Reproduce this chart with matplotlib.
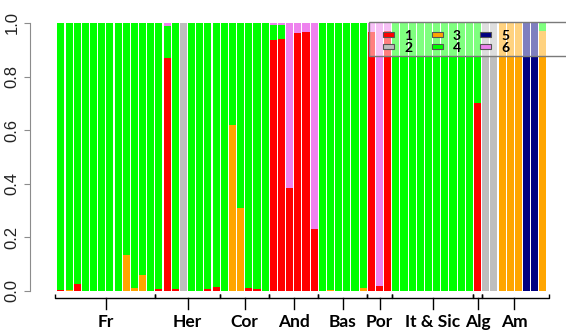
import numpy as np
import matplotlib.pyplot as plt
from matplotlib.patches import Rectangle

# membership coefficients per individual for clusters 1..6 (stacked bottom to top)
# population order: Fr, Her, Cor, And, Bas, Por, It & Sic, Alg, Am
k1 = ([0.005, 0, 0.025, 0, 0, 0, 0, 0, 0, 0, 0, 0]
      + [0.008, 0.868, 0.008, 0, 0, 0, 0.008, 0.015]
      + [0, 0, 0, 0.010, 0.006, 0]
      + [0.936, 0.940, 0.385, 0.962, 0.968, 0.232]
      + [0, 0, 0, 0, 0, 0]
      + [0.965, 0.018, 0.970]
      + [0, 0, 0, 0, 0, 0, 0, 0, 0, 0]
      + [0.703]
      + [0, 0, 0, 0, 0, 0, 0, 0])
k2 = ([0] * 12
      + [0, 0, 0, 1.0, 0, 0, 0, 0]
      + [0] * 6 + [0] * 6 + [0] * 6 + [0] * 3 + [0] * 10 + [0]
      + [1.0, 1.0, 0, 0, 0, 0, 0, 0])
k3 = ([0, 0.005, 0, 0, 0, 0, 0, 0, 0.135, 0.013, 0.058, 0]
      + [0] * 8
      + [0, 0.620, 0.310, 0, 0, 0]
      + [0] * 6
      + [0, 0.004, 0, 0, 0, 0.012]
      + [0] * 3 + [0] * 10 + [0]
      + [0, 0, 1.0, 1.0, 1.0, 0, 0, 0.970])
k4 = ([0.995, 0.995, 0.975, 1, 1, 1, 1, 1, 0.865, 0.987, 0.942, 1]
      + [0.992, 0.121, 0.992, 0, 1, 1, 0.992, 0.985]
      + [1, 0.380, 0.690, 0.990, 0.994, 1]
      + [0.058, 0.054, 0, 0, 0, 0]
      + [1, 0.996, 1, 1, 1, 0.988]
      + [0, 0, 0]
      + [1, 1, 1, 1, 1, 1, 1, 1, 1, 1]
      + [0.297]
      + [0, 0, 0, 0, 0, 0, 0, 0.030])
k5 = ([0] * 12 + [0] * 8 + [0] * 6 + [0] * 6 + [0] * 6 + [0] * 3 + [0] * 10 + [0]
      + [0, 0, 0, 0, 0, 1.0, 1.0, 0])
k6 = ([0] * 12
      + [0, 0.011, 0, 0, 0, 0, 0, 0]
      + [0] * 6
      + [0.006, 0.006, 0.615, 0.038, 0.032, 0.768]
      + [0] * 6
      + [0.035, 0.982, 0.030]
      + [0] * 10 + [0] + [0] * 8)

pops = ["Fr", "Her", "Cor", "And", "Bas", "Por", "It & Sic", "Alg", "Am"]
pop_sizes = [12, 8, 6, 6, 6, 3, 10, 1, 8]
clusters = ["1", "2", "3", "4", "5", "6"]
colors = ["#FF0000", "#BEBEBE", "#FFA500", "#00FF00", "#000080", "#EE82EE"]

Q = np.array([k1, k2, k3, k4, k5, k6])
n = Q.shape[1]
x = np.arange(n)

W, H = 566, 330
fig = plt.figure(figsize=(W / 100, H / 100), dpi=100)

def px(x0, y0):
    # pixel position (from top-left) to figure fraction
    return x0 / W, 1 - y0 / H

ax = fig.add_axes([56.8 / W, (H - 291) / H, 490.2 / W, 268 / H])

bottom = np.zeros(n)
for k in range(Q.shape[0]):
    ax.bar(x, Q[k], width=0.87, bottom=bottom, color=colors[k],
           edgecolor="none", linewidth=0)
    bottom += Q[k]

ax.set_xlim(-0.5, n - 0.5)
ax.set_ylim(0, 1)
for s in ["top", "right", "bottom"]:
    ax.spines[s].set_visible(False)
ax.spines["left"].set_position(("outward", 19))
ax.spines["left"].set_bounds(0, 1)
ax.spines["left"].set_color("#8C8C8C")
ax.set_xticks([])
ax.set_yticks([0, 0.2, 0.4, 0.6, 0.8, 1.0])
ax.set_yticklabels(["0.0", "0.2", "0.4", "0.6", "0.8", "1.0"],
                   rotation=90, va="center", fontsize=12,
                   family="Liberation Sans", color="#222222")
ax.tick_params(axis="y", length=4, color="#8C8C8C", pad=4)

# population brackets under the bars
edges = np.concatenate([[0], np.cumsum(pop_sizes)]) - 0.5
for i, name in enumerate(pops):
    a, b = edges[i], edges[i + 1]
    if i == 0:
        a -= 0.2
    if i == len(pops) - 1:
        b += 0.2
    mid = (edges[i] + edges[i + 1]) / 2
    ax.plot([a, a, b, b], [-0.012, -0.027, -0.027, -0.012], color="black",
            lw=1, clip_on=False, solid_capstyle="butt")
    ax.plot([mid, mid], [-0.027, -0.066], color="black", lw=1, clip_on=False)
    ax.text(mid, -0.115, name, ha="center", va="center", fontsize=12.5,
            fontweight="bold", family="Lato")

# legend box, semi-transparent, running off the right edge
lx0, ly0 = px(369, 56)
box = Rectangle((lx0, ly0), 210 / W, 34 / H, transform=fig.transFigure,
                facecolor="white", alpha=0.5, edgecolor="none", zorder=5)
fig.add_artist(box)
frame = Rectangle((lx0, ly0), 210 / W, 34 / H, transform=fig.transFigure,
                  facecolor="none", edgecolor="#7A7A7A", lw=1, zorder=6)
fig.add_artist(frame)

key_x = [383, 431.5, 480]
row_y = [34.0, 46.0]
for k, lab in enumerate(clusters):
    col, row = k // 2, k % 2
    kx, ky = px(key_x[col], row_y[row] + 2.5)
    fig.add_artist(Rectangle((kx, ky), 11 / W, 5 / H, transform=fig.transFigure,
                             facecolor=colors[k], edgecolor="#555555", lw=0.8,
                             zorder=7))
    tx, ty = px(key_x[col] + 21, row_y[row] + 1.8)
    fig.text(tx, ty, lab, ha="left", va="center", fontsize=10,
             fontweight="bold", family="Lato", zorder=8)

fig.savefig("out.png", dpi=100)
